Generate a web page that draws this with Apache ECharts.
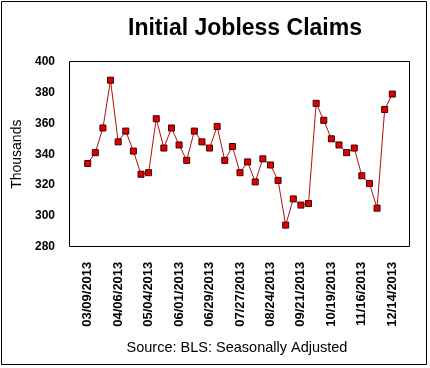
<!DOCTYPE html>
<html>
<head>
<meta charset="utf-8">
<script src="https://cdn.jsdelivr.net/npm/echarts@6/dist/echarts.min.js"></script>
<style>
html,body{margin:0;padding:0;background:#fff;}
#c{width:430px;height:368px;}
</style>
</head>
<body>
<div id="c"></div>
<script>
var categories = ["03/09/2013","03/16/2013","03/23/2013","03/30/2013","04/06/2013","04/13/2013","04/20/2013","04/27/2013","05/04/2013","05/11/2013","05/18/2013","05/25/2013","06/01/2013","06/08/2013","06/15/2013","06/22/2013","06/29/2013","07/06/2013","07/13/2013","07/20/2013","07/27/2013","08/03/2013","08/10/2013","08/17/2013","08/24/2013","08/31/2013","09/07/2013","09/14/2013","09/21/2013","09/28/2013","10/05/2013","10/12/2013","10/19/2013","10/26/2013","11/02/2013","11/09/2013","11/16/2013","11/23/2013","11/30/2013","12/07/2013","12/14/2013"];
var claims = [334,341,357,388,348,355,342,327,328,363,344,357,346,336,355,348,344,358,336,345,328,335,322,337,333,323,294,311,307,308,373,362,350,346,341,344,326,321,305,369,379];
var yTicks = {min:280, max:400, interval:20};

var chart = echarts.init(document.getElementById('c'), null, {renderer:'canvas'});
chart.setOption({
  backgroundColor:'#fff',
  animation:false,
  title:{
    text:'Initial Jobless Claims',
    left:240, top:12, textAlign:'center',
    textStyle:{fontFamily:'Liberation Sans, Arial', fontWeight:'bold', fontSize:23, color:'#000'}
  },
  graphic:[
    {type:'rect', shape:{x:1.5,y:1.5,width:425,height:363}, style:{fill:'none', stroke:'#000', lineWidth:1}, silent:true, z:-1},
    {type:'rect', shape:{x:69.5,y:61.5,width:340,height:185}, style:{fill:'none', stroke:'#000', lineWidth:1}, silent:true, z:-1},
    {type:'text', style:{text:'Source: BLS: Seasonally Adjusted', x:237, y:348, textAlign:'center', textVerticalAlign:'middle', font:'14.5px "Liberation Sans", Arial', fill:'#000'}}
  ],
  grid:{left:87.7, right:37.7, top:61.7, bottom:121.3, containLabel:false},
  xAxis:{
    type:'category', data:categories, boundaryGap:false,
    axisLine:{show:false}, axisTick:{show:false}, splitLine:{show:false},
    axisLabel:{interval:3, rotate:90, margin:15, color:'#000', fontFamily:'Liberation Sans, Arial', fontWeight:'bold', fontSize:13}
  },
  yAxis:{
    type:'value', min:yTicks.min, max:yTicks.max, interval:yTicks.interval,
    name:'Thousands', nameLocation:'middle', nameGap:63, nameRotate:90,
    nameTextStyle:{fontFamily:'Liberation Sans, Arial', fontSize:14, color:'#000'},
    axisLine:{show:false}, axisTick:{show:false}, splitLine:{show:false},
    axisLabel:{margin:32.7, color:'#000', fontFamily:'Liberation Sans, Arial', fontWeight:'bold', fontSize:12}
  },
  series:[{
    type:'line', data:claims,
    symbol:'rect', symbolSize:6, showAllSymbol:true,
    lineStyle:{color:'#b01010', width:1},
    itemStyle:{color:'#e00000', borderColor:'#400000', borderWidth:1}
  }]
});
</script>
</body>
</html>
